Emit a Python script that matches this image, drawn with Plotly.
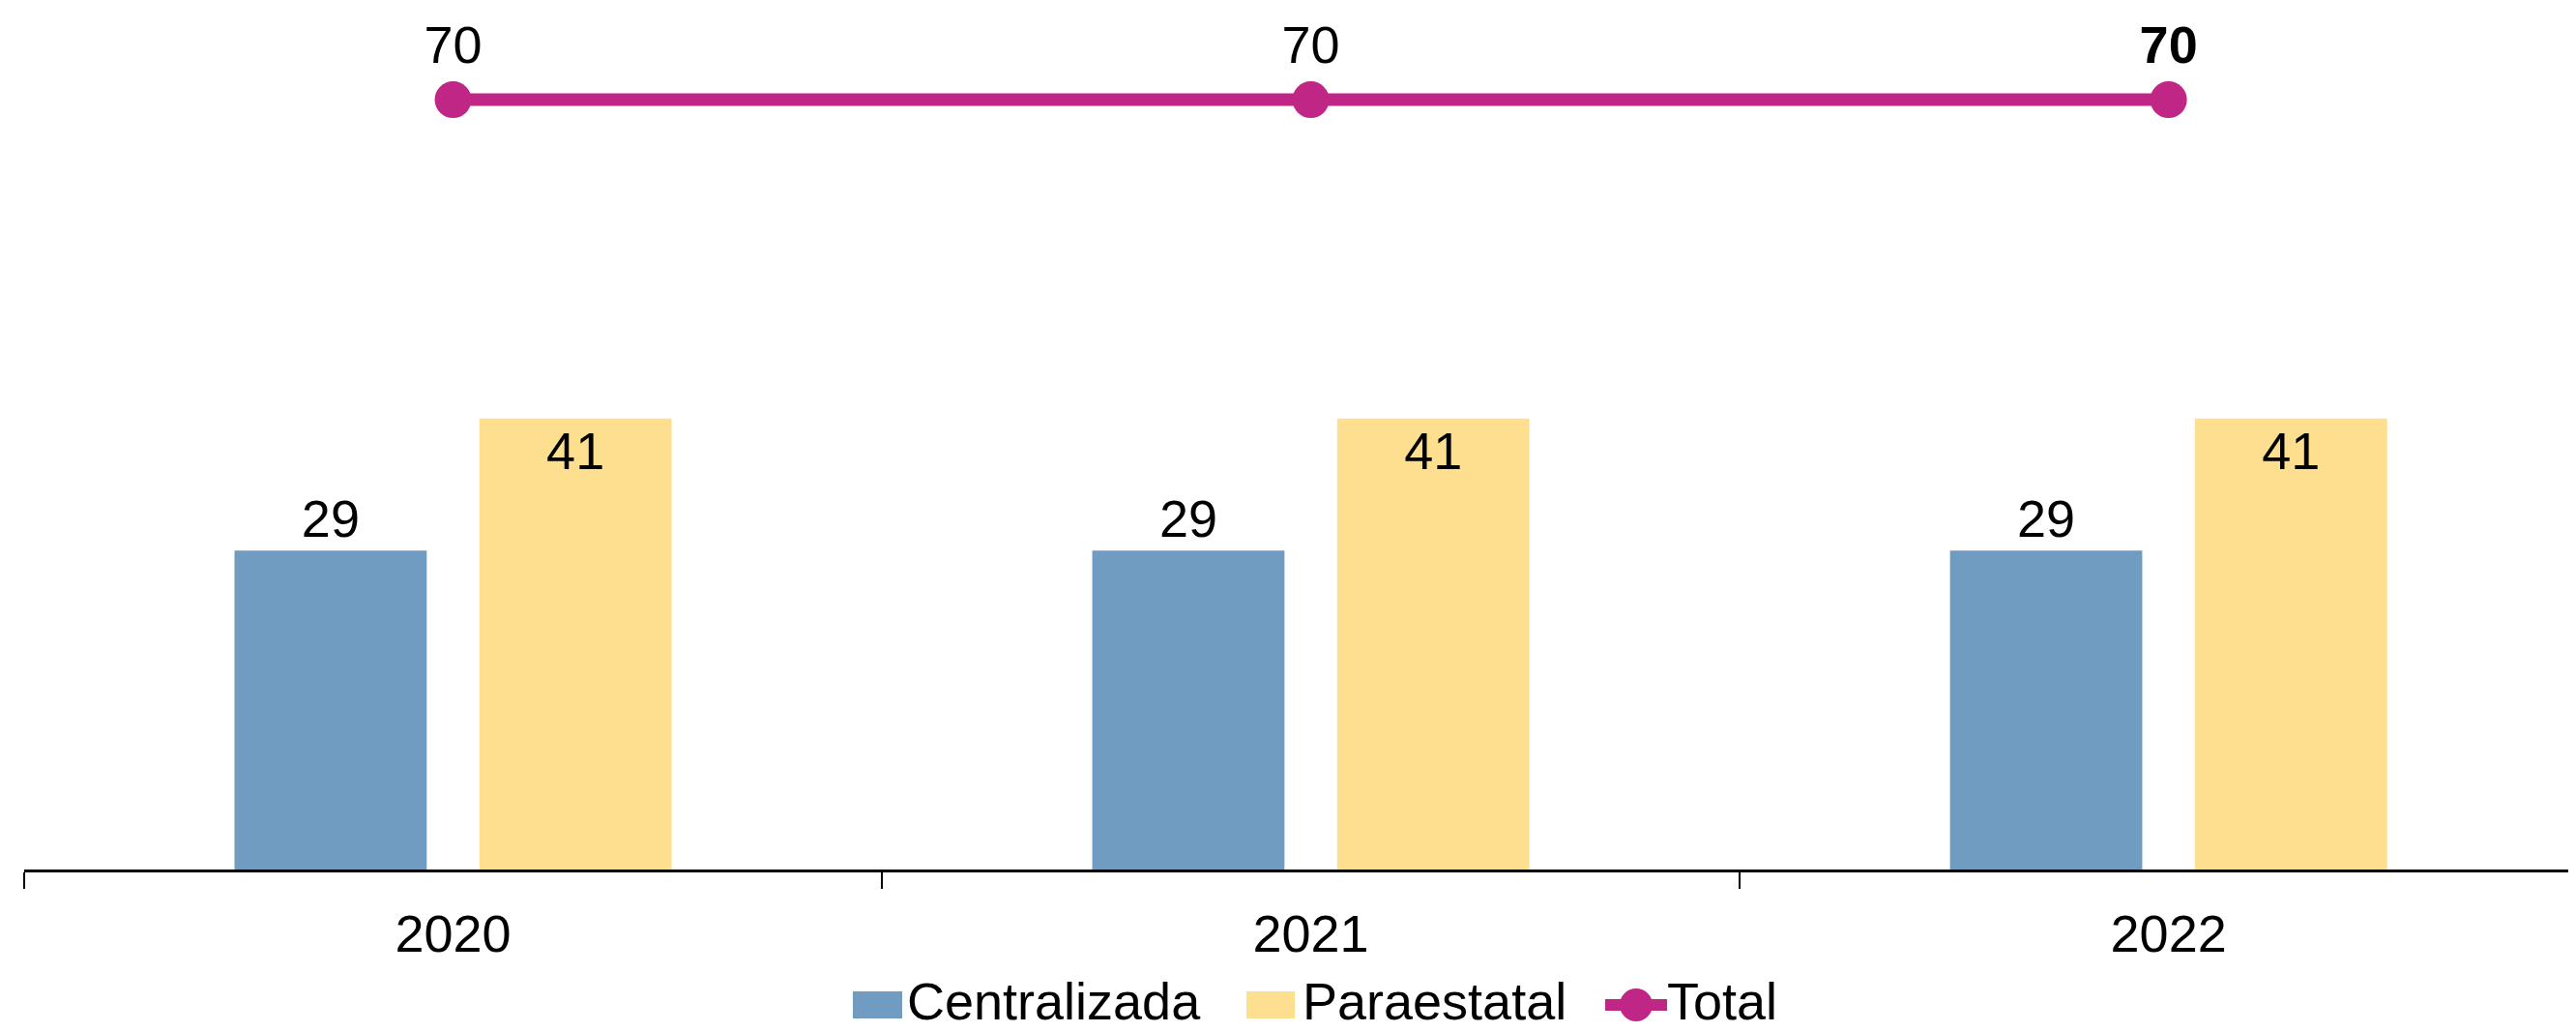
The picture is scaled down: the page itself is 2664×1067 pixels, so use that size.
import plotly.graph_objects as go

years = ["2020", "2021", "2022"]
centralizada = [29, 29, 29]
paraestatal = [41, 41, 41]
total = [70, 70, 70]
total_labels = ["70", "70", "<b>70</b>"]
series_names = ["Centralizada", "Paraestatal", "Total"]

BLUE = "#709CC1"
YELLOW = "#FEDE8F"
MAGENTA = "#C02685"
FONT = "Liberation Sans, Arial, sans-serif"
FS = 54

# Page body has an 8px default margin; figure sized to fill the rest of the viewport.
OFF = 8
FIG_W, FIG_H = 2664 - OFF, 1067 - OFF
# Plot area on screen
PL, PR, PT, PB = 25, 2664, 10, 899
ML, MR, MT, MB = PL - OFF, 2664 - PR, PT - OFF, FIG_H - (PB - OFF)
PW, PH = PR - PL, PB - PT


def px(x):
    return (x - PL) / PW


def py(y):
    return (PB - y) / PH


fig = go.Figure()
fig.add_trace(go.Bar(
    x=years, y=centralizada, name=series_names[0],
    marker=dict(color=BLUE, line=dict(width=0)),
    text=[str(v) for v in centralizada], textposition="outside",
    textfont=dict(family=FONT, size=FS, color="black"),
    cliponaxis=False, constraintext="none", showlegend=False,
))
fig.add_trace(go.Bar(
    x=years, y=paraestatal, name=series_names[1],
    marker=dict(color=YELLOW, line=dict(width=0)),
    text=[str(v) for v in paraestatal], textposition="inside",
    insidetextanchor="end", textangle=0,
    insidetextfont=dict(family=FONT, size=FS, color="black"),
    constraintext="none", showlegend=False,
))
fig.add_trace(go.Scatter(
    x=years, y=total, name=series_names[2], mode="lines+markers+text",
    line=dict(color=MAGENTA, width=13),
    marker=dict(color=MAGENTA, size=38),
    text=total_labels, textposition="top center",
    textfont=dict(family=FONT, size=FS, color="black"),
    cliponaxis=False, showlegend=False,
))

# Custom legend (large swatches as in the reference)
LEG_Y = 1039
shapes = []
annotations = []
sw = [(882, 933, BLUE), (1289, 1339, YELLOW)]
for (x0, x1, col) in sw:
    shapes.append(dict(type="rect", xref="paper", yref="paper",
                       x0=px(x0), x1=px(x1), y0=py(LEG_Y + 14), y1=py(LEG_Y - 14),
                       fillcolor=col, line=dict(width=0)))
shapes.append(dict(type="line", xref="paper", yref="paper",
                   x0=px(1660), x1=px(1724), y0=py(LEG_Y), y1=py(LEG_Y),
                   line=dict(color=MAGENTA, width=12)))
shapes.append(dict(type="circle", xref="paper", yref="paper",
                   x0=px(1692 - 17), x1=px(1692 + 17), y0=py(LEG_Y + 17), y1=py(LEG_Y - 17),
                   fillcolor=MAGENTA, line=dict(width=0)))
for name, xs in zip(series_names, [936, 1345, 1722]):
    annotations.append(dict(text=name, xref="paper", yref="paper", x=px(xs), y=py(LEG_Y - 4),
                            xanchor="left", yanchor="middle", showarrow=False,
                            font=dict(family=FONT, size=FS, color="black")))

fig.update_layout(
    width=FIG_W, height=FIG_H,
    margin=dict(l=ML, r=MR, t=MT, b=MB, autoexpand=False),
    paper_bgcolor="white", plot_bgcolor="white",
    barmode="group", bargap=0.429, bargroupgap=0.215,
    font=dict(family=FONT, size=FS, color="black"),
    showlegend=False,
    shapes=shapes, annotations=annotations,
)
fig.update_xaxes(
    type="category", range=[-0.5, 2.475],
    showline=True, linecolor="black", linewidth=3,
    ticks="outside", tickson="boundaries", ticklen=17, tickwidth=2, tickcolor="black",
    ticklabelstandoff=17,
    showgrid=False, zeroline=False,
    tickfont=dict(family=FONT, size=FS, color="black"),
)
fig.update_yaxes(range=[0, PH / 11.37], visible=False, showgrid=False, zeroline=False)

fig.write_html("out.html")
